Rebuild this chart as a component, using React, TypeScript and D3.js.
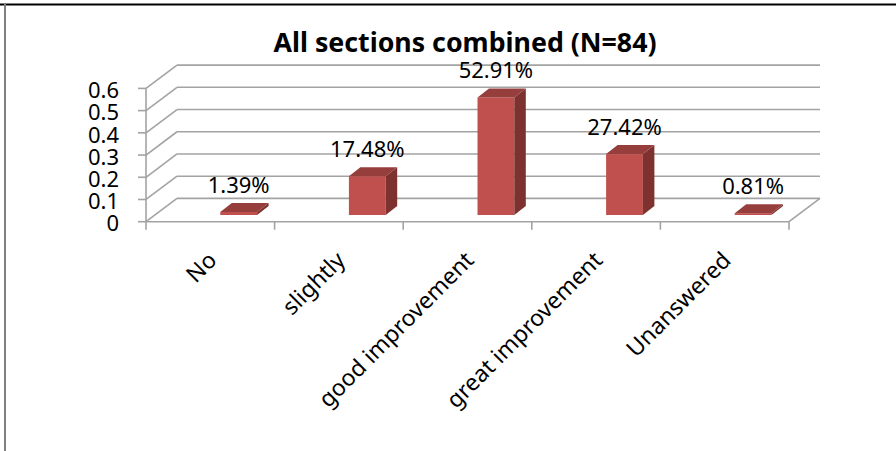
import React from "react";
import * as d3 from "d3";

const categories = ["No", "slightly", "good improvement", "great improvement", "Unanswered"];
const values = [0.0139, 0.1748, 0.5291, 0.2742, 0.0081];
const valueLabels = ["1.39%", "17.48%", "52.91%", "27.42%", "0.81%"];
const yTicks = [0, 0.1, 0.2, 0.3, 0.4, 0.5, 0.6];
const title = "All sections combined (N=84)";

const W = 896;
const H = 451;

export default function App() {
  const x = d3.scaleBand<string>().domain(categories).range([146, 789]).padding(0);
  const y = d3.scaleLinear().domain([0, 0.6]).range([221.7, 88.4]);
  const DX = 31;
  const DY = -23.3;
  const BDX = 11.5;
  const BDY = -9;
  const barFloor = y(0) - 6.7;
  const bw = x.bandwidth();
  const gridColor = "#A3A3A3";
  const font = "'Noto Sans', 'Liberation Sans', sans-serif";

  return (
    <svg width={W} height={H} style={{ position: "absolute", left: 0, top: 0, background: "#fff" }}>
      {/* frame */}
      <line x1={0} x2={W} y1={4.5} y2={4.5} stroke="#000" strokeWidth={2} />
      <line x1={5} x2={5} y1={4} y2={H} stroke="#808080" strokeWidth={2} />

      {/* title */}
      <text x={465} y={51.7} textAnchor="middle" fontFamily={font} fontWeight="bold" fontSize={26}
        textLength={383} lengthAdjust="spacingAndGlyphs" fill="#000">{title}</text>

      {/* back wall gridlines and left wall diagonals */}
      {yTicks.map((t) => (
        <g key={"g" + t}>
          <line x1={x.range()[0] + DX} x2={x.range()[1] + DX} y1={y(t) + DY} y2={y(t) + DY}
            stroke={gridColor} strokeWidth={1.6} />
          <line x1={x.range()[0]} x2={x.range()[0] + DX} y1={y(t)} y2={y(t) + DY}
            stroke={gridColor} strokeWidth={1.6} />
          <line x1={x.range()[0] - 8} x2={x.range()[0]} y1={y(t)} y2={y(t)}
            stroke={gridColor} strokeWidth={1.6} />
          <text x={119} y={y(t) + 2} dy="0.35em" textAnchor="end" fontFamily={font} fontSize={22} fill="#000">
            {String(t)}
          </text>
        </g>
      ))}

      {/* floor right diagonal */}
      <line x1={x.range()[1]} x2={x.range()[1] + DX} y1={y(0)} y2={y(0) + DY} stroke={gridColor} strokeWidth={1.6} />
      {/* y axis */}
      <line x1={x.range()[0]} x2={x.range()[0]} y1={y(0.6)} y2={y(0)} stroke={gridColor} strokeWidth={1.6} />
      {/* front floor */}
      <line x1={x.range()[0]} x2={x.range()[1]} y1={y(0)} y2={y(0)} stroke={gridColor} strokeWidth={1.6} />
      {/* category ticks */}
      {[...categories.map((c) => x(c) as number), x.range()[1]].map((px, i) => (
        <line key={"t" + i} x1={px} x2={px} y1={y(0)} y2={y(0) + 8} stroke={gridColor} strokeWidth={1.6} />
      ))}

      {/* bars */}
      {categories.map((c, i) => {
        const cx = (x(c) as number) + bw / 2;
        const L = cx + 10;
        const R = L + 36.8;
        const B = barFloor;
        const T = barFloor - (y(0) - y(values[i]));
        const top = `M${L},${T} L${R},${T} L${R + BDX},${T + BDY} L${L + BDX},${T + BDY} Z`;
        const side = `M${R},${T} L${R + BDX},${T + BDY} L${R + BDX},${B + BDY} L${R},${B} Z`;
        return (
          <g key={"b" + c}>
            <rect x={L} y={T} width={R - L} height={B - T} fill="#C0504D" />
            <path d={side} fill="#7E3230" />
            <path d={top} fill="#963E3C" />
            <text x={(L + R) / 2} y={T + BDY - 10} textAnchor="middle" fontFamily={font} fontSize={22} fill="#000">
              {valueLabels[i]}
            </text>
          </g>
        );
      })}

      {/* category labels */}
      {categories.map((c) => {
        const cx = (x(c) as number) + bw / 2;
        const ax = cx + 2;
        const ay = 256;
        return (
          <text key={"c" + c} x={ax} y={ay} dy="0.35em" textAnchor="end" fontFamily={font} fontSize={23}
            transform={`rotate(-45 ${ax} ${ay})`} fill="#000">
            {c}
          </text>
        );
      })}
    </svg>
  );
}
